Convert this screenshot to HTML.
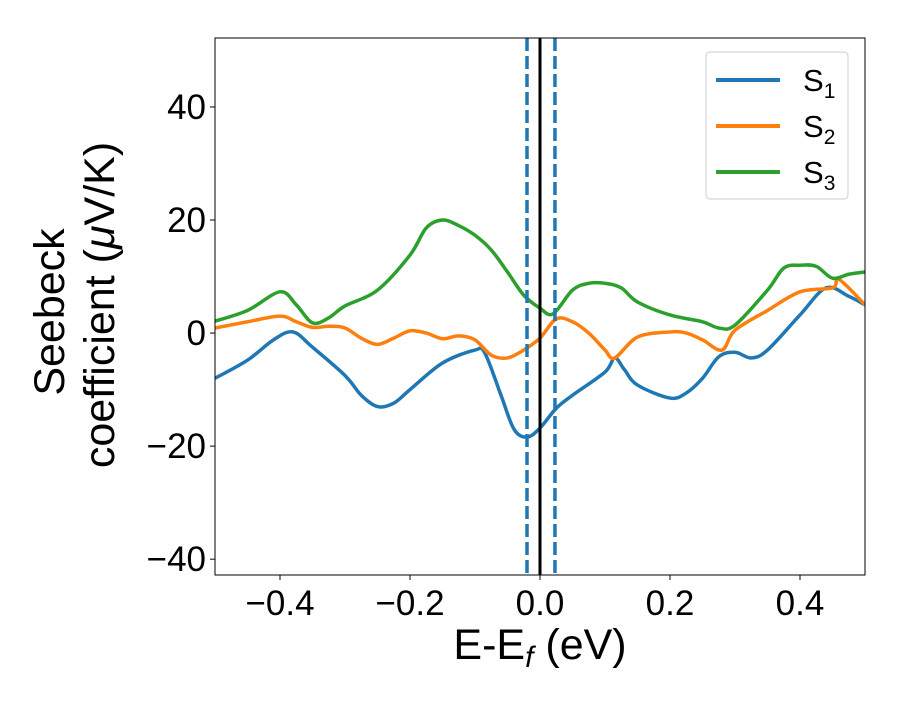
<!DOCTYPE html>
<html><head><meta charset="utf-8"><style>
html,body{margin:0;padding:0;background:#fff;}
svg text{font-family:"Liberation Sans","DejaVu Sans",sans-serif;fill:#000;}
</style></head><body>
<svg id="chart" width="900" height="700" viewBox="0 0 900 700" xmlns="http://www.w3.org/2000/svg">
<rect width="900" height="700" fill="#fff"/>
<g id="plot"></g>
</svg>
<script>
const xS = [-0.5,-0.45,-0.41,-0.38,-0.35,-0.3,-0.275,-0.25,-0.225,-0.2,-0.15,-0.1,-0.085,-0.06,-0.04,-0.02,0,0.025,0.05,0.1,0.115,0.13,0.15,0.2,0.225,0.25,0.275,0.3,0.325,0.35,0.4,0.44,0.475,0.5];
const s1 = [-8,-4.8,-1.2,0.2,-2.5,-7.5,-11,-13,-12.4,-10,-5.3,-3,-3.5,-11,-17,-18.4,-16.8,-13.3,-11,-6.9,-4.4,-6.5,-9.2,-11.5,-10.6,-8,-4.2,-3.4,-4.4,-3,3.2,8,6.5,5];
const xO = [-0.5,-0.45,-0.4,-0.375,-0.35,-0.325,-0.3,-0.275,-0.25,-0.225,-0.2,-0.175,-0.15,-0.125,-0.1,-0.075,-0.05,-0.025,0,0.025,0.05,0.075,0.1,0.115,0.15,0.2,0.225,0.25,0.28,0.3,0.35,0.4,0.45,0.46,0.5];
const s2 = [0.9,2,3,2,1,1.2,0.9,-0.9,-2,-0.9,0.4,0,-1,-0.5,-1.2,-3.9,-4.4,-3,-0.9,2.5,2,0,-3,-4.4,-0.7,0.2,0,-1.2,-3,0.5,4,7.3,8,9.5,5];
const xG = [-0.5,-0.45,-0.4,-0.375,-0.35,-0.325,-0.3,-0.25,-0.2,-0.175,-0.15,-0.125,-0.1,-0.075,-0.05,-0.025,0,0.02,0.05,0.075,0.1,0.125,0.15,0.2,0.25,0.275,0.3,0.35,0.375,0.4,0.425,0.45,0.475,0.5];
const s3 = [2.1,4,7.3,5,1.8,2.7,4.8,7.6,13.8,18.6,20,19,17.3,14.7,10.8,6.7,4.4,3.4,7.6,8.8,8.8,8,5.5,3.2,2,0.9,1.4,7.6,11.5,12,11.8,9.7,10.4,10.8];
const xTicks = [-0.4,-0.2,0.0,0.2,0.4];
const xTickLabels = ["\u22120.4","\u22120.2","0.0","0.2","0.4"];
const yTicks = [-40,-20,0,20,40];
const yTickLabels = ["\u221240","\u221220","0","20","40"];
const vLines = [-0.02, 0.023];

const L=215,R=865,T=38,B=575,xmin=-0.5,xmax=0.5,ymin=-42.8,ymax=52.2;
const X=v=>L+(v-xmin)/(xmax-xmin)*(R-L);
const Y=v=>B-(v-ymin)/(ymax-ymin)*(B-T);
const NS="http://www.w3.org/2000/svg";
const g=document.getElementById('plot');
function mk(t,a,p){const e=document.createElementNS(NS,t);for(const k in a)e.setAttribute(k,a[k]);(p||g).appendChild(e);return e;}
function smooth(xs,ys){const p=xs.map((x,i)=>[X(x),Y(ys[i])]);let d=`M${p[0][0]},${p[0][1]}`;
for(let i=0;i<p.length-1;i++){const p0=p[i-1]||p[i],p1=p[i],p2=p[i+1],p3=p[i+2]||p2;
d+=` C${p1[0]+(p2[0]-p0[0])/6},${p1[1]+(p2[1]-p0[1])/6} ${p2[0]-(p3[0]-p1[0])/6},${p2[1]-(p3[1]-p1[1])/6} ${p2[0]},${p2[1]}`;}return d;}

const clip=mk('clipPath',{id:'clip'});mk('rect',{x:L,y:T,width:R-L,height:B-T},clip);
const series=[[xS,s1,'#1f77b4','series-s1'],[xO,s2,'#ff7f0e','series-s2'],[xG,s3,'#2ca02c','series-s3']];
series.forEach(([xs,ys,c,n])=>{const e=mk('path',{d:smooth(xs,ys),fill:'none',stroke:c,'stroke-width':3.5,'clip-path':'url(#clip)'});

});
vLines.forEach((v,i)=>{const e=mk('line',{x1:X(v),x2:X(v),y1:T,y2:B,stroke:'#1f77b4','stroke-width':3.5,'stroke-dasharray':'13,5'});

});
const fl=mk('line',{x1:X(0),x2:X(0),y1:T,y2:B,stroke:'#000','stroke-width':3});


const fr=mk('rect',{x:L,y:T,width:R-L,height:B-T,fill:'none',stroke:'#000','stroke-width':1});


xTicks.forEach((v,i)=>{mk('line',{x1:X(v),x2:X(v),y1:B,y2:B+5,stroke:'#000'});
const t=mk('text',{x:X(v),y:B+40,'font-size':35,'text-anchor':'middle'});t.textContent=xTickLabels[i];

});
yTicks.forEach((v,i)=>{mk('line',{x1:L-5,x2:L,y1:Y(v),y2:Y(v),stroke:'#000'});
const t=mk('text',{x:L-9,y:Y(v)+12,'font-size':35,'text-anchor':'end'});t.textContent=yTickLabels[i];

});
</script>
<svg style="position:absolute;left:0;top:0" width="900" height="700">
<text x="540" y="659" font-size="43" text-anchor="middle">E-E<tspan font-style="italic" font-size="30" dy="8">f</tspan><tspan dy="-8"> (eV)</tspan></text>
<text transform="translate(64,312) rotate(-90)" font-size="43" text-anchor="middle">Seebeck</text>
<text transform="translate(114,305) rotate(-90)" font-size="43" text-anchor="middle">coefficient  (<tspan font-style="italic">μ</tspan>V/K)</text>
<g>
<rect x="706" y="52" width="142" height="147" rx="4" fill="#fff" stroke="#ccc" stroke-width="1"/>
<line x1="716" x2="780" y1="80" y2="80" stroke="#1f77b4" stroke-width="4"/>
<text x="803" y="91" font-size="31">S<tspan font-size="21" dy="7">1</tspan></text>
<line x1="716" x2="780" y1="126" y2="126" stroke="#ff7f0e" stroke-width="4"/>
<text x="803" y="137" font-size="31">S<tspan font-size="21" dy="7">2</tspan></text>
<line x1="716" x2="780" y1="172" y2="172" stroke="#2ca02c" stroke-width="4"/>
<text x="803" y="183" font-size="31">S<tspan font-size="21" dy="7">3</tspan></text>
</g>
</svg>
</body></html>
